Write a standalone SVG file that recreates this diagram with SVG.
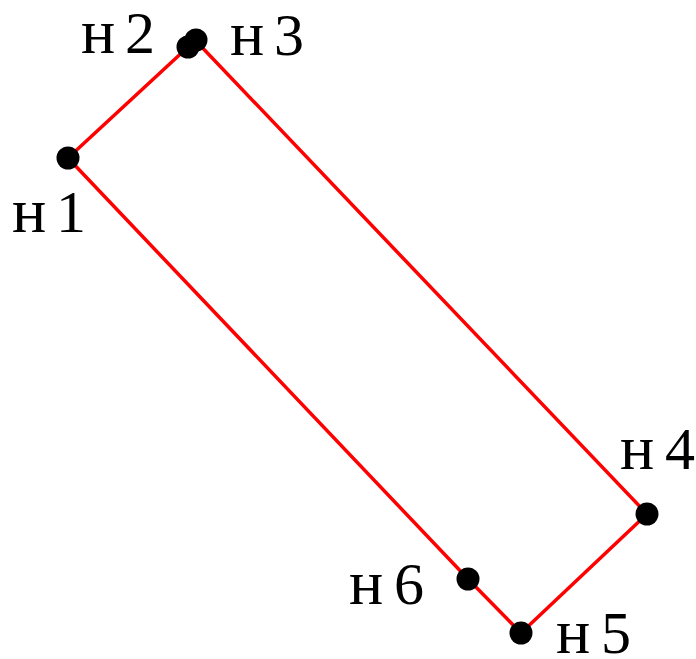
<svg xmlns="http://www.w3.org/2000/svg" width="696" height="659" viewBox="0 0 696 659">
<style>
.edge{stroke:#f00;stroke-width:3.5;fill:none;stroke-linecap:round}
.dot{fill:#000}
.lbl{font-family:"Liberation Serif","DejaVu Serif",serif;font-size:60px;fill:#000}
.c{font-size:64px}
</style>
<rect width="696" height="659" fill="#fff"/>
<g id="connectors">
<line class="edge" x1="68" y1="158" x2="188" y2="47"/>
<line class="edge" x1="196" y1="41" x2="647" y2="514"/>
<line class="edge" x1="647" y1="514" x2="521" y2="633"/>
<line class="edge" x1="521" y1="633" x2="468" y2="579"/>
<line class="edge" x1="468" y1="579" x2="68" y2="158"/>
</g>
<g id="H1"><circle class="dot" cx="68" cy="158" r="11.5"/><text class="lbl" y="232"><tspan class="c" x="12">н</tspan><tspan x="56">1</tspan></text></g>
<g id="H2"><circle class="dot" cx="188" cy="47" r="11.5"/><text class="lbl" y="53"><tspan class="c" x="81">н</tspan><tspan x="125">2</tspan></text></g>
<g id="H3"><circle class="dot" cx="196" cy="40" r="11.5"/><text class="lbl" y="55"><tspan class="c" x="230">н</tspan><tspan x="274">3</tspan></text></g>
<g id="H4"><circle class="dot" cx="647" cy="514" r="11.5"/><text class="lbl" y="469"><tspan class="c" x="620">н</tspan><tspan x="665">4</tspan></text></g>
<g id="H5"><circle class="dot" cx="521" cy="633" r="11.5"/><text class="lbl" y="653"><tspan class="c" x="556">н</tspan><tspan x="601">5</tspan></text></g>
<g id="H6"><circle class="dot" cx="468" cy="579" r="11.5"/><text class="lbl" y="604"><tspan class="c" x="349">н</tspan><tspan x="394">6</tspan></text></g>
</svg>
